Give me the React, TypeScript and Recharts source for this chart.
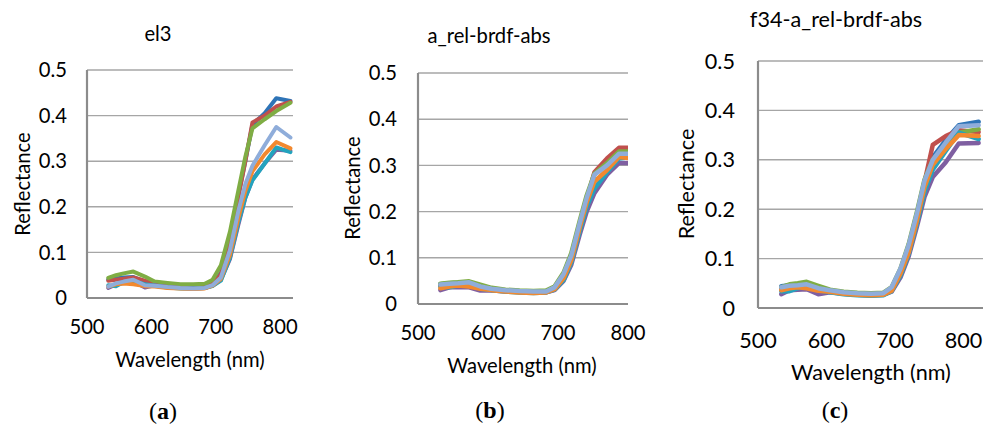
import React from 'react';
import { LineChart, Line, XAxis, YAxis, CartesianGrid } from 'recharts';

// ---------- data ----------
const Y_TICKS = [0, 0.1, 0.2, 0.3, 0.4, 0.5];
const X_TICKS = [500, 600, 700, 800];

// panel (a) el3
const WL_A = [533, 545, 557, 572, 590, 605, 625, 645, 665, 683, 695, 708, 722, 735, 746, 757, 776, 794, 816];
const A_BLUE = [0.040, 0.043, 0.045, 0.046, 0.036, 0.030, 0.027, 0.025, 0.024, 0.025, 0.032, 0.055, 0.130, 0.225, 0.300, 0.380, 0.405, 0.438, 0.432];
const A_RED = [0.038, 0.040, 0.042, 0.045, 0.038, 0.030, 0.027, 0.025, 0.024, 0.025, 0.031, 0.052, 0.125, 0.220, 0.300, 0.385, 0.400, 0.420, 0.430];
const A_GREEN = [0.044, 0.050, 0.054, 0.058, 0.047, 0.036, 0.033, 0.030, 0.030, 0.031, 0.040, 0.072, 0.145, 0.235, 0.310, 0.372, 0.392, 0.410, 0.428];
const A_PURPLE = [0.022, 0.030, 0.033, 0.036, 0.023, 0.028, 0.024, 0.022, 0.021, 0.022, 0.027, 0.040, 0.085, 0.160, 0.220, 0.260, 0.295, 0.325, 0.323];
const A_TEAL = [0.028, 0.026, 0.035, 0.038, 0.030, 0.027, 0.023, 0.021, 0.021, 0.022, 0.026, 0.038, 0.088, 0.165, 0.220, 0.258, 0.295, 0.330, 0.320];
const A_ORANGE = [0.025, 0.030, 0.032, 0.030, 0.026, 0.025, 0.022, 0.021, 0.020, 0.021, 0.027, 0.042, 0.095, 0.175, 0.235, 0.278, 0.315, 0.342, 0.328];
const A_LIGHT = [0.025, 0.032, 0.036, 0.040, 0.028, 0.027, 0.024, 0.022, 0.021, 0.022, 0.028, 0.045, 0.105, 0.190, 0.250, 0.290, 0.335, 0.375, 0.352];

// panel (b) a_rel-brdf-abs
const WL_B = [532, 545, 557, 573, 589, 605, 625, 645, 665, 683, 695, 708, 719, 731, 741, 752, 770, 787, 806];
const B_BLUE = [0.043, 0.045, 0.046, 0.047, 0.036, 0.032, 0.029, 0.027, 0.026, 0.027, 0.035, 0.062, 0.100, 0.170, 0.225, 0.280, 0.310, 0.335, 0.338];
const B_RED = [0.040, 0.042, 0.043, 0.044, 0.035, 0.031, 0.028, 0.027, 0.026, 0.027, 0.034, 0.060, 0.098, 0.168, 0.225, 0.285, 0.315, 0.338, 0.338];
const B_GREEN = [0.044, 0.046, 0.047, 0.049, 0.042, 0.035, 0.031, 0.029, 0.028, 0.029, 0.038, 0.068, 0.110, 0.180, 0.235, 0.282, 0.305, 0.330, 0.330];
const B_PURPLE = [0.030, 0.036, 0.036, 0.036, 0.029, 0.030, 0.027, 0.026, 0.025, 0.025, 0.030, 0.050, 0.085, 0.150, 0.200, 0.240, 0.280, 0.305, 0.305];
const B_TEAL = [0.037, 0.036, 0.040, 0.042, 0.033, 0.030, 0.027, 0.025, 0.024, 0.025, 0.031, 0.052, 0.090, 0.158, 0.210, 0.250, 0.285, 0.315, 0.318];
const B_ORANGE = [0.034, 0.038, 0.040, 0.038, 0.033, 0.030, 0.027, 0.025, 0.024, 0.025, 0.032, 0.056, 0.095, 0.165, 0.220, 0.265, 0.290, 0.318, 0.315];
const B_LIGHT = [0.042, 0.044, 0.045, 0.047, 0.038, 0.033, 0.030, 0.028, 0.027, 0.027, 0.036, 0.065, 0.105, 0.175, 0.230, 0.280, 0.300, 0.325, 0.325];

// panel (c) f34-a_rel-brdf-abs
const WL_C = [534, 546, 558, 571, 588, 605, 625, 645, 665, 683, 695, 708, 720, 732, 743, 755, 774, 793, 822];
const C_BLUE = [0.044, 0.046, 0.047, 0.049, 0.040, 0.035, 0.031, 0.029, 0.028, 0.029, 0.040, 0.078, 0.125, 0.190, 0.255, 0.305, 0.340, 0.370, 0.377];
const C_RED = [0.040, 0.042, 0.044, 0.046, 0.038, 0.034, 0.030, 0.028, 0.027, 0.028, 0.038, 0.074, 0.120, 0.185, 0.255, 0.330, 0.348, 0.360, 0.356];
const C_GREEN = [0.042, 0.048, 0.050, 0.053, 0.045, 0.037, 0.033, 0.031, 0.030, 0.031, 0.042, 0.080, 0.130, 0.195, 0.260, 0.300, 0.330, 0.355, 0.362];
const C_PURPLE = [0.028, 0.036, 0.037, 0.038, 0.028, 0.032, 0.029, 0.027, 0.026, 0.027, 0.033, 0.062, 0.105, 0.165, 0.225, 0.265, 0.295, 0.333, 0.334];
const C_TEAL = [0.034, 0.034, 0.040, 0.044, 0.036, 0.032, 0.028, 0.026, 0.025, 0.026, 0.034, 0.066, 0.110, 0.172, 0.235, 0.280, 0.318, 0.355, 0.342];
const C_ORANGE = [0.036, 0.040, 0.042, 0.040, 0.035, 0.033, 0.029, 0.027, 0.026, 0.027, 0.035, 0.070, 0.113, 0.178, 0.245, 0.290, 0.322, 0.350, 0.348];
const C_LIGHT = [0.042, 0.045, 0.046, 0.048, 0.040, 0.036, 0.032, 0.030, 0.029, 0.030, 0.042, 0.080, 0.128, 0.192, 0.258, 0.300, 0.335, 0.368, 0.370];

// ---------- style ----------
const COLORS = ['#2E74B7', '#C0504D', '#7FAD44', '#7F5FA1', '#23A3BE', '#F2892F', '#8FADDA'];
const FONT = 'Lato, "Open Sans", sans-serif';

type Geo = {
  left: number; width: number; height: number;
  plotL: number; plotR: number; plotT: number; plotB: number;
  xMax: number; font: number; lw: number; yGap: number; xGap: number;
  title: [number, number]; xTitle: [number, number]; yTitle: [number, number]; letter: [number, number];
};

function Panel({ wl, series, title, letter, g }: { wl: number[]; series: number[][]; title: string; letter: string; g: Geo }) {
  const rows = wl.map((w, i) => {
    const r: Record<string, number> = { wl: w };
    series.forEach((s, j) => { r['s' + j] = s[i]; });
    return r;
  });
  const txt = (x: number, y: number, extra: React.CSSProperties = {}): React.CSSProperties => ({
    position: 'absolute', left: x, top: y, transform: 'translate(-50%, -50%)', lineHeight: 1,
    whiteSpace: 'nowrap', color: '#000', fontFamily: FONT, fontSize: g.font, ...extra,
  });
  return (
    <>
      <div style={{ position: 'absolute', left: g.left, top: 0 }}>
        <LineChart
          width={g.width}
          height={g.height}
          data={rows}
          margin={{ top: g.plotT, right: g.width - g.plotR, left: 0, bottom: 0 }}
        >
          <CartesianGrid vertical={false} stroke="#A6A6A6" strokeWidth={1.4} />
          <XAxis
            dataKey="wl"
            type="number"
            domain={[500, g.xMax]}
            ticks={X_TICKS}
            allowDataOverflow
            height={g.height - g.plotB}
            tickLine={false}
            tickSize={0}
            tickMargin={g.xGap}
            axisLine={{ stroke: '#8C8C8C', strokeWidth: 2.2 }}
            tick={{ fill: '#000', fontSize: g.font, fontFamily: FONT }}
            interval={0}
          />
          <YAxis
            type="number"
            domain={[0, 0.5]}
            ticks={Y_TICKS}
            width={g.plotL}
            tickLine={false}
            tickSize={0}
            tickMargin={g.yGap}
            axisLine={{ stroke: '#8C8C8C', strokeWidth: 2.2 }}
            tick={{ fill: '#000', fontSize: g.font, fontFamily: FONT }}
            interval={0}
          />
          {series.map((_, j) => (
            <Line
              key={j}
              dataKey={'s' + j}
              stroke={COLORS[j]}
              strokeWidth={g.lw}
              dot={false}
              isAnimationActive={false}
              strokeLinejoin="round"
              strokeLinecap="round"
            />
          ))}
        </LineChart>
      </div>
      <div style={txt(g.title[0], g.title[1])}>{title}</div>
      <div style={txt(g.xTitle[0], g.xTitle[1])}>Wavelength (nm)</div>
      <div style={txt(g.yTitle[0], g.yTitle[1], { transform: 'translate(-50%, -50%) rotate(-90deg)' })}>Reflectance</div>
      <div style={txt(g.letter[0], g.letter[1], { fontFamily: '"Liberation Serif", "DejaVu Serif", serif', fontSize: 24 })}>
        (<b>{letter}</b>)
      </div>
    </>
  );
}

const GEO_A: Geo = {
  left: 0, width: 320, height: 345, plotL: 87, plotR: 293, plotT: 70, plotB: 298,
  xMax: 820, font: 20.2, lw: 4, yGap: 20, xGap: 22,
  title: [158, 33], xTitle: [190, 359], yTitle: [22, 184], letter: [163, 411],
};
const GEO_B: Geo = {
  left: 330, width: 320, height: 350, plotL: 88, plotR: 298, plotT: 73, plotB: 304,
  xMax: 800, font: 20.2, lw: 4.5, yGap: 21, xGap: 22,
  title: [489, 35], xTitle: [522, 365], yTitle: [352, 188], letter: [490, 410],
};
const GEO_C: Geo = {
  left: 660, width: 340, height: 355, plotL: 98, plotR: 331, plotT: 61, plotB: 308,
  xMax: 840, font: 21.6, lw: 4.5, yGap: 23, xGap: 25,
  title: [836, 20], xTitle: [871, 373], yTitle: [687, 184], letter: [835, 410],
};

export default function App() {
  return (
    <div style={{ position: 'absolute', left: 0, top: 0, width: 983, height: 426, overflow: 'hidden', background: '#fff' }}>
      <Panel wl={WL_A} series={[A_BLUE, A_RED, A_GREEN, A_PURPLE, A_TEAL, A_ORANGE, A_LIGHT]} title="el3" letter="a" g={GEO_A} />
      <Panel wl={WL_B} series={[B_BLUE, B_RED, B_GREEN, B_PURPLE, B_TEAL, B_ORANGE, B_LIGHT]} title="a_rel-brdf-abs" letter="b" g={GEO_B} />
      <Panel wl={WL_C} series={[C_BLUE, C_RED, C_GREEN, C_PURPLE, C_TEAL, C_ORANGE, C_LIGHT]} title="f34-a_rel-brdf-abs" letter="c" g={GEO_C} />
    </div>
  );
}
